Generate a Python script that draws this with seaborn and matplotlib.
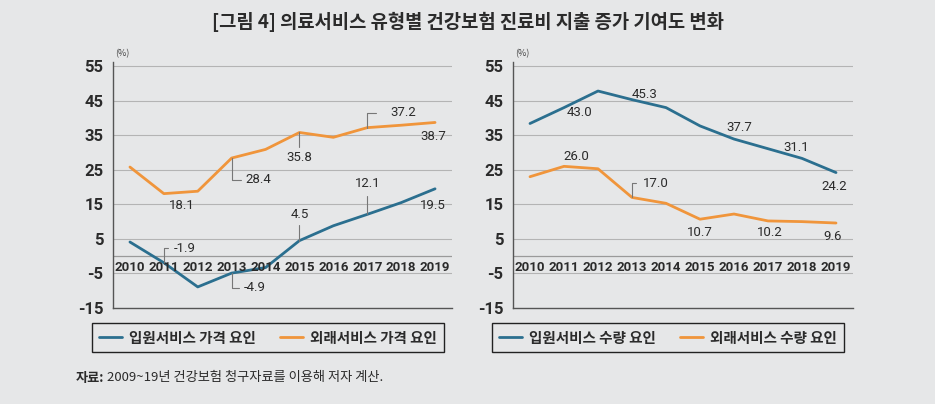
import pandas as pd
import numpy as np
import matplotlib
matplotlib.use("Agg")
import matplotlib.pyplot as plt
import seaborn as sns

# data (%)
years = [2010, 2011, 2012, 2013, 2014, 2015, 2016, 2017, 2018, 2019]

price_inpatient = [4.1, -1.9, -8.9, -4.9, -3.3, 4.5, 8.8, 12.1, 15.5, 19.5]
price_outpatient = [25.8, 18.1, 18.8, 28.4, 30.9, 35.8, 34.4, 37.2, 37.9, 38.7]
volume_inpatient = [38.4, 43.0, 47.8, 45.3, 43.0, 37.7, 33.9, 31.1, 28.3, 24.2]
volume_outpatient = [23.0, 26.0, 25.3, 17.0, 15.3, 10.7, 12.2, 10.2, 10.0, 9.6]

left_names = ["입원서비스 가격 요인", "외래서비스 가격 요인"]
right_names = ["입원서비스 수량 요인", "외래서비스 수량 요인"]
yticks = [-15, -5, 5, 15, 25, 35, 45, 55]

title = "[그림 4] 의료서비스 유형별 건강보험 진료비 지출 증가 기여도 변화"
source_bold = "자료:"
source_text = " 2009~19년 건강보험 청구자료를 이용해 저자 계산."

BG = "#e6e7e8"
BLUE = "#2b6f8f"
ORANGE = "#f0953b"
GRID = "#b4b4b4"
DARK = "#2b2b2b"

sns.set_theme(style="white")
plt.rcParams["font.family"] = ["Noto Sans CJK KR", "DejaVu Sans"]
NUM_FONT = ["Liberation Sans Narrow", "Roboto", "DejaVu Sans"]

# label layout: (series index, year, text x, text y, ha, leader points or None)
left_labels = [
    (0, 2011, 2011.29, 2.3, "left", [(2011, 2.3), (2011.11, 2.3)]),
    (0, 2013, 2013.37, -9.2, "left", [(2013, -9.2), (2013.23, -9.2)]),
    (0, 2015, 2015.0, 12.2, "center", [(2015, 9.1)]),
    (0, 2017, 2017.0, 21.0, "center", [(2017, 17.3)]),
    (0, 2019, 2018.95, 14.7, "center", None),
    (1, 2011, 2011.52, 14.7, "center", None),
    (1, 2013, 2013.42, 22.1, "left", [(2013, 22.1), (2013.27, 22.1)]),
    (1, 2015, 2015.0, 28.6, "center", [(2015, 31.7)]),
    (1, 2017, 2017.67, 41.5, "left", [(2017, 41.5), (2017.27, 41.5)]),
    (1, 2019, 2018.94, 34.6, "center", None),
]
right_labels = [
    (0, 2011, 2011.47, 41.5, "center", None),
    (0, 2013, 2013.37, 46.9, "center", None),
    (0, 2015, 2016.16, 37.3, "center", None),
    (0, 2017, 2017.82, 31.5, "center", None),
    (0, 2019, 2018.94, 20.2, "center", None),
    (1, 2011, 2011.37, 28.8, "center", None),
    (1, 2013, 2013.32, 21.1, "left", [(2013, 21.1), (2013.13, 21.1)]),
    (1, 2015, 2014.99, 6.9, "center", None),
    (1, 2017, 2017.04, 6.9, "center", None),
    (1, 2019, 2018.9, 5.7, "center", None),
]

fig = plt.figure(figsize=(9.35, 4.04), dpi=100)
fig.patch.set_facecolor(BG)

ax_l = fig.add_axes([113 / 935, 96 / 404, 339 / 935, 246 / 404])
ax_r = fig.add_axes([513 / 935, 96 / 404, 340 / 935, 246 / 404])


def draw_panel(ax, s1, s2, names, labels):
    ax.set_facecolor(BG)
    df = pd.DataFrame({
        "year": years * 2,
        "value": s1 + s2,
        "series": [names[0]] * len(years) + [names[1]] * len(years),
    })
    sns.lineplot(data=df, x="year", y="value", hue="series",
                 palette=[BLUE, ORANGE], linewidth=2, ax=ax, legend=False)
    ax.set_xlim(2009.5, 2019.5)
    ax.set_ylim(-15, 56.2)
    ax.set_yticks(yticks)
    ax.set_yticklabels([str(t) for t in yticks], fontweight="bold",
                       fontsize=12, color=DARK, family=NUM_FONT)
    ax.tick_params(axis="y", length=0, pad=7)
    ax.set_xticks([])
    ax.set_xlabel("")
    ax.set_ylabel("")
    for t in yticks[1:]:
        ax.axhline(t, color=GRID, lw=0.8, zorder=0)
    ax.axhline(0, color="#9a9a9a", lw=0.9, zorder=0)
    for side in ["top", "right"]:
        ax.spines[side].set_visible(False)
    ax.spines["left"].set_color("#555555")
    ax.spines["bottom"].set_color("#555555")
    ax.spines["left"].set_linewidth(1.0)
    ax.spines["bottom"].set_linewidth(1.0)
    for y in years:
        ax.text(y, -3.2, str(y), ha="center", va="center", fontsize=9.5,
                fontweight="bold", color=DARK, family=NUM_FONT)
    ax.text(2009.55, 57.3, "(%)", fontsize=6.5, color="#444444", va="bottom")
    series = [s1, s2]
    for idx, yr, tx, ty, ha, leader in labels:
        v = series[idx][years.index(yr)]
        if leader:
            xs = [yr] + [p[0] for p in leader]
            ys = [v] + [p[1] for p in leader]
            ax.plot(xs, ys, color="#777777", lw=0.8)
        ax.text(tx, ty, f"{v:.1f}", ha=ha, va="center", fontsize=9.5,
                color=DARK, family=NUM_FONT)


draw_panel(ax_l, price_inpatient, price_outpatient, left_names, left_labels)
draw_panel(ax_r, volume_inpatient, volume_outpatient, right_names, right_labels)

for names, cx in [(left_names, 268 / 935), (right_names, 668 / 935)]:
    handles = [plt.Line2D([], [], color=c, lw=2) for c in (BLUE, ORANGE)]
    leg = fig.legend(handles, names, loc="center", bbox_to_anchor=(cx, 66.5 / 404),
                     ncol=2, frameon=True, fancybox=False, fontsize=10.5,
                     handlelength=1.6, handletextpad=0.5, columnspacing=1.6,
                     borderpad=0.45, edgecolor="#222222", facecolor=BG,
                     framealpha=1, prop={"weight": "bold", "size": 10.5})
    leg.get_frame().set_linewidth(1.0)
    for t in leg.get_texts():
        t.set_color(DARK)

fig.text(0.5, 1 - 22 / 404, title, ha="center", va="center", fontsize=13.5,
         fontweight="bold", color=DARK)
t1 = fig.text(76 / 935, 1 - 378 / 404, source_bold, ha="left", va="center",
              fontsize=9.5, fontweight="bold", color=DARK)
fig.canvas.draw()
bb = t1.get_window_extent()
fig.text(bb.x1 / 935, 1 - 378 / 404, source_text, ha="left", va="center",
         fontsize=9.5, color=DARK)

fig.savefig("out.png", dpi=100, facecolor=BG)
